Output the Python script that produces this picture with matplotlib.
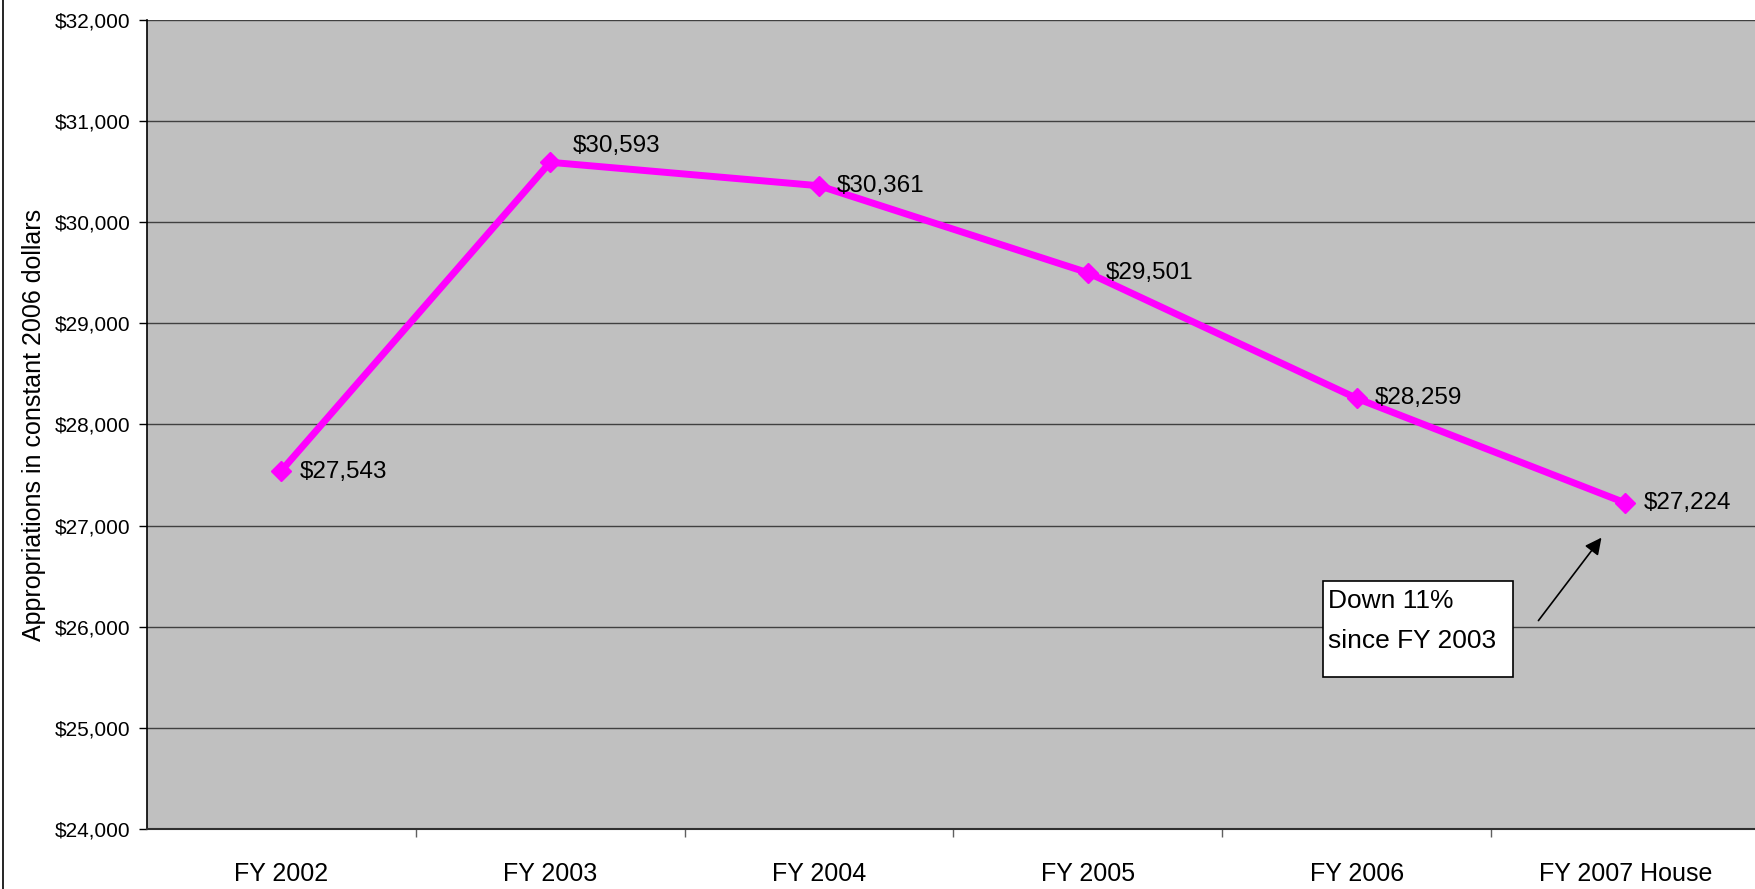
#!/usr/bin/env python3
from matplotlib import pyplot as plt
from matplotlib.lines import Line2D
from matplotlib.patches import Rectangle

categories = ['FY 2002', 'FY 2003', 'FY 2004', 'FY 2005', 'FY 2006', 'FY 2007 House']
values = [27543, 30593, 30361, 29501, 28259, 27224]
y_ticks = [24000, 25000, 26000, 27000, 28000, 29000, 30000, 31000, 32000]

font = ['Liberation Sans', 'DejaVu Sans']

def money(v):
	return '${:,}'.format(v)

def main():
	fig = plt.figure(figsize=(17.56, 8.89), dpi=100)
	ax = fig.add_axes([0.0837, 0.0675, 0.9185, 0.91])
	ax.set_facecolor('#c0c0c0')

	x = list(range(len(categories)))
	ax.plot(x, values, color='#ff00ff', linewidth=5, marker='D', markersize=10,
		markeredgecolor='#ff00ff', zorder=3)

	# data labels
	offsets = [(13, -1), (16, 12), (13, 0), (13, 0), (13, 0), (13, 0)]
	for i, v in enumerate(values):
		dx, dy = offsets[i]
		ax.annotate(money(v), (x[i], v), xytext=(dx, dy), textcoords='offset points',
			ha='left', va='center', fontsize=17.5, family=font, zorder=4)

	ax.set_xlim(-0.5, len(categories) - 0.5)
	ax.set_ylim(y_ticks[0], y_ticks[-1])
	ax.set_yticks(y_ticks)
	ax.set_yticklabels([money(t) for t in y_ticks], family=font, fontsize=15)
	ax.set_xticks(x)
	ax.set_xticklabels(categories, family=font, fontsize=18)
	ax.set_xticks([i + 0.5 for i in x[:-1]], minor=True)
	ax.tick_params(axis='x', which='major', length=0, pad=24)
	ax.tick_params(axis='x', which='minor', length=6, width=1, color='#606060', direction='out')
	ax.tick_params(axis='y', length=6, width=1, pad=6, direction='out')
	ax.yaxis.grid(True, color='#404040', linewidth=1)
	ax.set_axisbelow(True)
	for s in ['top', 'right']:
		ax.spines[s].set_visible(False)
	ax.spines['left'].set_linewidth(1.2)
	ax.spines['bottom'].set_linewidth(1.5)
	ax.spines['bottom'].set_color('#303030')

	ax.set_ylabel('Appropriations in constant 2006 dollars', family=font, fontsize=18, labelpad=6)

	# callout
	ax.add_patch(Rectangle((3.875, 25507), 0.708, 942, facecolor='white',
		edgecolor='black', linewidth=1.2, zorder=5))
	ax.text(3.895, 26370, 'Down 11%\nsince FY 2003', ha='left', va='top',
		family=font, fontsize=19, linespacing=1.8, zorder=6)
	ax.annotate('', xy=(4.917, 26903), xytext=(4.67, 26039),
		arrowprops=dict(arrowstyle='-|>', color='black', lw=1.2, mutation_scale=25), zorder=6)

	fig.add_artist(Line2D([0.0015, 0.0015], [0, 1], color='black', linewidth=1.2))

	fig.savefig('out.png', dpi=100)
	plt.close()

if __name__ == '__main__':
	main()
